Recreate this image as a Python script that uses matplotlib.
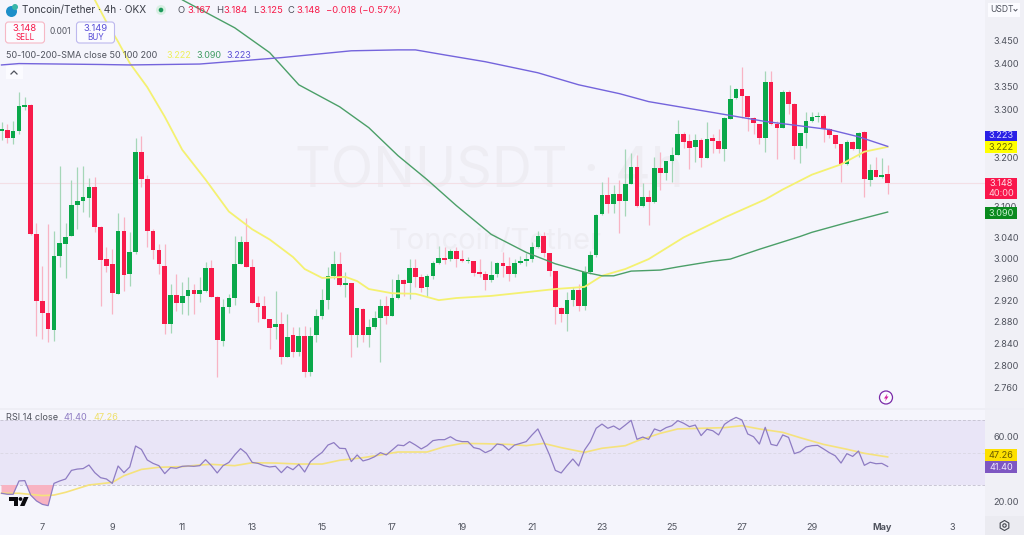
import matplotlib
matplotlib.use('Agg')
import matplotlib.pyplot as plt
from matplotlib.patches import Circle, FancyBboxPatch, Polygon, Rectangle, RegularPolygon
from matplotlib.ticker import NullFormatter, NullLocator

plt.rcParams['font.family'] = ['Inter', 'DejaVu Sans']

# 4h candles, oldest first
opens = [3.254,3.258,3.241,3.254,3.306,3.310,3.046,2.918,2.896,2.864,
         3.004,3.027,3.042,3.103,3.111,3.117,3.141,3.060,2.998,2.989,
         2.932,3.052,2.970,3.011,3.212,3.157,3.052,3.015,2.985,2.876,
         2.930,2.914,2.928,2.939,2.931,2.937,2.981,2.926,2.844,2.907,
         2.924,2.989,3.031,2.983,2.914,2.909,2.885,2.870,2.876,2.816,
         2.855,2.825,2.853,2.789,2.855,2.890,2.920,2.966,2.989,2.948,
         2.952,2.855,2.903,2.855,2.870,2.887,2.909,2.890,2.924,2.958,
         2.952,2.981,2.964,2.945,2.966,2.991,3.000,2.998,3.013,2.998,
         2.994,2.994,2.973,2.970,2.958,2.970,2.991,2.985,2.970,2.991,
         2.994,2.998,3.021,3.042,3.009,2.975,2.905,2.894,2.920,2.939,
         2.909,2.973,3.005,3.087,3.123,3.105,3.125,3.111,3.147,3.180,
         3.101,3.119,3.109,3.178,3.168,3.192,3.206,3.248,3.235,3.222,
         3.237,3.200,3.241,3.235,3.218,3.281,3.325,3.344,3.329,3.283,
         3.269,3.241,3.360,3.269,3.262,3.338,3.312,3.224,3.250,3.275,
         3.285,3.287,3.260,3.246,3.227,3.186,3.233,3.218,3.252,3.155,
         3.174,3.161,3.167]
highs = [3.273,3.269,3.275,3.338,3.327,3.312,3.069,2.985,3.067,3.052,
         3.182,3.069,3.155,3.180,3.182,3.159,3.161,3.062,3.021,3.017,
         3.089,3.081,3.050,3.241,3.245,3.165,3.056,3.027,3.027,2.950,
         2.970,2.954,2.964,2.950,2.964,2.992,2.996,2.927,2.922,2.932,
         3.042,3.042,3.079,2.998,2.928,2.928,2.885,2.937,2.898,2.894,
         2.870,2.870,2.872,2.870,2.903,2.941,2.983,3.013,3.011,2.973,
         2.953,2.906,2.905,2.885,2.899,2.922,2.928,2.960,2.970,2.960,
         2.998,2.998,2.970,2.970,2.994,3.023,3.021,3.017,3.021,3.015,
         3.002,2.995,2.998,2.975,2.994,2.992,3.011,3.002,2.998,3.004,
         3.009,3.031,3.052,3.050,3.010,2.976,2.907,2.935,2.945,2.950,
         2.985,3.013,3.086,3.151,3.161,3.145,3.155,3.218,3.210,3.206,
         3.149,3.135,3.202,3.212,3.193,3.222,3.279,3.252,3.248,3.248,
         3.241,3.273,3.248,3.260,3.284,3.353,3.346,3.392,3.330,3.284,
         3.270,3.383,3.383,3.275,3.342,3.342,3.313,3.251,3.294,3.296,
         3.296,3.290,3.262,3.247,3.228,3.237,3.234,3.252,3.254,3.186,
         3.202,3.200,3.184]
lows = [3.237,3.231,3.227,3.248,3.300,3.044,2.853,2.848,2.843,2.844,
        2.983,2.962,3.042,3.056,3.091,3.081,3.050,2.909,2.973,2.894,
        2.931,2.937,2.946,3.007,3.141,3.021,2.998,2.970,2.857,2.860,
        2.899,2.894,2.892,2.894,2.916,2.935,2.926,2.780,2.835,2.896,
        2.911,2.989,2.983,2.914,2.879,2.885,2.830,2.848,2.803,2.816,
        2.816,2.817,2.780,2.782,2.843,2.885,2.903,2.960,2.946,2.926,
        2.816,2.834,2.843,2.834,2.866,2.807,2.876,2.890,2.922,2.928,
        2.922,2.945,2.935,2.926,2.960,2.989,2.989,2.994,2.983,2.992,
        2.991,2.966,2.964,2.939,2.954,2.964,2.964,2.956,2.964,2.989,
        2.985,2.992,3.020,3.002,2.966,2.876,2.879,2.862,2.909,2.899,
        2.901,2.970,3.002,3.085,3.089,3.089,3.048,3.083,3.146,3.100,
        3.100,3.065,3.108,3.135,3.155,3.151,3.205,3.220,3.176,3.190,
        3.180,3.199,3.210,3.210,3.192,3.280,3.323,3.283,3.254,3.248,
        3.227,3.212,3.268,3.196,3.261,3.290,3.196,3.188,3.220,3.273,
        3.273,3.233,3.241,3.220,3.151,3.185,3.216,3.202,3.119,3.143,
        3.160,3.159,3.125]
closes = [3.260,3.241,3.254,3.308,3.310,3.046,2.918,2.896,2.866,3.004,
          3.029,3.040,3.103,3.111,3.119,3.141,3.060,2.996,2.985,2.933,
          3.052,2.968,3.011,3.212,3.157,3.052,3.015,2.989,2.876,2.930,
          2.914,2.928,2.939,2.931,2.939,2.981,2.926,2.846,2.907,2.924,
          2.989,3.031,2.983,2.914,2.907,2.885,2.868,2.876,2.816,2.852,
          2.825,2.853,2.789,2.853,2.890,2.920,2.966,2.989,2.948,2.952,
          2.855,2.905,2.855,2.870,2.887,2.909,2.890,2.924,2.958,2.950,
          2.981,2.964,2.943,2.966,2.991,3.000,2.996,3.013,2.998,2.994,
          2.996,2.971,2.970,2.958,2.968,2.991,2.985,2.970,2.991,2.994,
          2.998,3.021,3.042,3.009,2.975,2.907,2.894,2.920,2.939,2.909,
          2.973,3.005,3.085,3.123,3.105,3.125,3.111,3.147,3.180,3.101,
          3.119,3.109,3.178,3.168,3.192,3.206,3.248,3.233,3.220,3.237,
          3.200,3.239,3.235,3.218,3.283,3.323,3.344,3.329,3.285,3.271,
          3.241,3.360,3.269,3.262,3.338,3.312,3.224,3.250,3.275,3.285,
          3.287,3.260,3.246,3.227,3.186,3.233,3.218,3.250,3.157,3.174,
          3.161,3.165,3.148]

# moving averages, read at a handful of candles
sma50_idx = [16,18,20,22,25,28,31,35,39,43,46,50,52,55,59,61,63,67,71,75,78,84,90,95,100,
             103,107,111,117,124,131,134,139,144,148,152]
sma50 = [3.541,3.491,3.447,3.400,3.348,3.285,3.216,3.155,3.091,3.056,3.036,3.002,2.979,2.962,
         2.964,2.956,2.941,2.933,2.932,2.920,2.924,2.928,2.935,2.941,2.945,
         2.966,2.979,2.998,3.040,3.079,3.115,3.135,3.165,3.186,3.212,3.222]
sma100_idx = [28,31,40,46,51,58,63,68,73,78,84,90,95,100,103,105,108,113,116,122,125,130,137,139,145,152]
sma100 = [3.582,3.541,3.478,3.423,3.353,3.306,3.262,3.204,3.155,3.103,3.046,3.011,2.989,2.973,
          2.966,2.966,2.975,2.977,2.983,2.994,2.998,3.017,3.042,3.050,3.069,3.090]
sma200_idx = [0,3,10,17,22,34,43,48,60,68,71,76,83,92,99,106,111,122,131,142,147,152]
sma200 = [3.396,3.399,3.398,3.397,3.396,3.398,3.407,3.412,3.427,3.429,3.429,3.418,3.403,3.379,
          3.353,3.334,3.317,3.294,3.275,3.258,3.243,3.223]

rsi = [24.9,24.3,24.3,32.5,32.7,23.8,20.2,18.1,17.3,31.0,32.5,33.7,39.0,39.8,40.1,42.3,37.6,34.5,33.7,31.0,
       41.7,37.6,41.1,54.0,51.9,45.4,43.3,41.9,37.0,40.7,40.3,41.5,41.7,41.5,41.9,45.6,41.9,37.4,41.9,43.9,
       48.5,52.4,49.5,43.9,43.3,41.9,41.1,41.5,37.6,41.3,39.4,42.7,38.0,44.4,47.4,50.1,54.6,56.1,52.6,52.4,
       44.4,48.5,44.8,45.8,47.4,49.9,48.5,51.5,54.6,54.2,56.7,54.6,52.2,54.2,57.3,57.9,57.9,59.7,57.5,56.7,
       56.7,53.0,52.2,49.9,51.5,55.2,54.6,51.5,54.6,55.6,56.7,60.8,64.5,56.7,48.5,39.0,37.4,41.9,46.0,41.7,
       51.5,56.7,64.9,67.5,64.9,66.3,64.1,66.9,69.8,58.1,59.5,58.1,64.5,63.2,65.3,66.5,69.6,68.0,65.9,66.9,
       60.4,64.3,63.4,60.8,67.3,69.8,71.6,70.0,61.4,59.7,55.2,65.5,55.0,54.2,60.8,59.3,49.3,50.5,53.4,54.2,
       54.4,52.2,49.9,48.0,43.5,49.3,47.6,50.9,42.1,44.0,43.1,43.3,41.4]
rsi_ma_idx = [0,3,7,9,11,15,19,21,24,27,31,34,36,40,43,47,51,55,58,62,65,68,73,76,79,83,87,90,93,96,
              100,103,107,109,113,116,120,124,127,130,134,137,141,145,148,152]
rsi_ma = [24.9,24.9,23.5,23.8,25.5,30.0,31.6,35.7,39.6,40.9,41.3,42.3,42.7,41.9,43.7,43.5,42.9,42.9,45.2,
          46.8,48.5,50.3,50.3,53.6,55.6,55.4,55.0,54.2,55.6,53.0,50.1,52.6,54.2,57.1,61.8,64.5,64.9,65.3,
          66.5,64.5,62.4,59.1,55.0,52.0,49.5,47.26]

price_ticks = [3.45,3.40,3.35,3.30,3.20,3.10,3.04,3.00,2.96,2.92,2.88,2.84,2.80,2.76]
rsi_ticks = [60,20]
tick_idx = [7,19,31,43,55,67,79,91,103,115,127,139,151,163]
tick_labels = ['7','9','11','13','15','17','19','21','23','25','27','29','May','3']

W, H = 1024, 535
BG = '#f5f5fc'
RED = '#f71b4a'
GREEN = '#0aa84a'
TXT = '#50535e'

fig = plt.figure(figsize=(W/100, H/100), dpi=100, facecolor=BG)


def px_rect(x0, y0, x1, y1):
    return [x0/W, 1-y1/H, (x1-x0)/W, (y1-y0)/H]


# background layer in pixel coordinates
bg = fig.add_axes([0, 0, 1, 1], zorder=0)
bg.set_xlim(0, W)
bg.set_ylim(H, 0)
bg.axis('off')
bg.add_patch(Rectangle((985, 0), 39, H, fc='#f0f0f6', ec='none'))
bg.add_patch(Rectangle((0, 408), W, 2, fc='#eeeef5', ec='none'))
bg.text(295, 172, 'TONUSDT · 4h', fontsize=40, color='#eeedf3', va='center', ha='left')
bg.text(389, 241, 'Toncoin/Tether', fontsize=21, color='#eeedf3', va='center', ha='left')

xmin = (0-1.5)/5.83
xmax = (985-1.5)/5.83

# price pane
ax = fig.add_axes(px_rect(0, 0, 985, 408), zorder=1)
ax.patch.set_alpha(0)
ax.set_yscale('log')
ax.set_xlim(xmin, xmax)
ax.set_ylim(2.7247, 3.5406)
for s in ax.spines.values():
    s.set_visible(False)

ax.axhline(closes[-1], color='#f3dfe6', lw=0.8, zorder=1)
for i in range(len(opens)):
    up = closes[i] >= opens[i]
    col = GREEN if up else RED
    ax.vlines(i, lows[i], highs[i], color='#a5d6b8' if up else '#f8b4c4', lw=0.9, zorder=2)
    lo = min(opens[i], closes[i])
    ax.bar(i, abs(closes[i]-opens[i]), bottom=lo, width=0.8, color=col, lw=0, zorder=3)

ax.plot(sma50_idx, sma50, color='#f4f171', lw=1.3, zorder=4)
ax.plot(sma100_idx, sma100, color='#4b9f68', lw=1.0, zorder=4)
ax.plot(sma200_idx, sma200, color='#7464dc', lw=1.0, zorder=4)

ax.yaxis.tick_right()
ax.yaxis.set_minor_locator(NullLocator())
ax.yaxis.set_minor_formatter(NullFormatter())
ax.set_yticks(price_ticks)
ax.set_yticklabels(['%.3f' % p for p in price_ticks])
ax.set_xticks([])
ax.tick_params(axis='y', length=0, pad=6, labelsize=6.6, labelcolor=TXT)

# rsi pane
ax2 = fig.add_axes(px_rect(0, 411, 985, 515), zorder=1)
ax2.patch.set_alpha(0)
ax2.set_xlim(xmin, xmax)
ax2.set_ylim(50-(515-452.5)/1.625, 50+(452.5-411)/1.625)
for s in ax2.spines.values():
    s.set_visible(False)
rsi_x = list(range(len(rsi)))
ax2.axhspan(30, 70, color='#e9e5f7', lw=0, zorder=1)
ax2.axhline(70, color='#c9c6d4', lw=0.7, ls=(0, (3, 2)), zorder=2)
ax2.axhline(50, color='#dcd9e6', lw=0.7, ls=(0, (3, 2)), zorder=2)
ax2.axhline(30, color='#c9c6d4', lw=0.7, ls=(0, (3, 2)), zorder=2)
ax2.fill_between(rsi_x, rsi, 30, where=[v < 30 for v in rsi], interpolate=True,
                 color='#f8b3c2', lw=0, zorder=2)
ax2.plot(rsi_ma_idx, rsi_ma, color='#f5e27c', lw=1.2, zorder=3)
ax2.plot(rsi_x, rsi, color='#8e7cc3', lw=0.9, zorder=4)
ax2.yaxis.tick_right()
ax2.set_yticks(rsi_ticks)
ax2.set_yticklabels(['%.2f' % v for v in rsi_ticks])
ax2.set_xticks(tick_idx)
ax2.set_xticklabels(tick_labels)
ax2.get_xticklabels()[12].set_fontweight('bold')
ax2.tick_params(axis='y', length=0, pad=6, labelsize=6.6, labelcolor=TXT)
ax2.tick_params(axis='x', length=0, pad=6, labelsize=6.6, labelcolor=TXT)

# header, labels and icons on top, pixel coordinates again
top = fig.add_axes([0, 0, 1, 1], zorder=3)
top.set_xlim(0, W)
top.set_ylim(H, 0)
top.axis('off')
top.patch.set_alpha(0)


def txt(x, y, s, size=6.6, color=TXT, ha='left', **kw):
    top.text(x, y, s, fontsize=size, color=color, ha=ha, va='center', **kw)


def tag(y0, y1, fc, label, color):
    top.add_patch(Rectangle((985, y0), 32, y1-y0, fc=fc, ec='none'))
    txt(1001, (y0+y1)/2, label, color=color, ha='center')


# logo
top.add_patch(Circle((11.5, 11.5), 5.5, fc='#1d8fc9', ec='none'))
top.add_patch(Circle((15, 7), 3, fc='#3ab6a8', ec='none'))
txt(22, 10.5, 'Toncoin/Tether · 4h · OKX', size=7.3, color='#3a3d47')
top.add_patch(Circle((161, 10), 5, fc='#d8efe3', ec='none'))
top.add_patch(Circle((161, 10), 2.3, fc='#1d9a5c', ec='none'))
txt(178, 10.5, 'O', size=6.8)
txt(187, 10.5, '3.167', size=6.8, color=RED)
txt(216, 10.5, 'H', size=6.8)
txt(223, 10.5, '3.184', size=6.8, color=RED)
txt(253, 10.5, 'L', size=6.8)
txt(259, 10.5, '3.125', size=6.8, color=RED)
txt(288, 10.5, 'C', size=6.8)
txt(296, 10.5, '3.148', size=6.8, color=RED)
txt(326, 10.5, '−0.018 (−0.57%)', size=6.8, color=RED)

top.add_patch(FancyBboxPatch((5.5, 22), 39, 21, boxstyle='round,pad=0,rounding_size=3',
                             fc='#fbfbff', ec='#f6b8c5', lw=0.8))
txt(25, 28.5, '3.148', color=RED, ha='center', size=6.8)
txt(25, 38, 'SELL', color=RED, ha='center', size=5.8)
txt(60, 32, '0.001', ha='center', size=6)
top.add_patch(FancyBboxPatch((76.5, 22), 38, 21, boxstyle='round,pad=0,rounding_size=3',
                             fc='#fbfbff', ec='#bdb8ee', lw=0.8))
txt(95.5, 28.5, '3.149', color='#5a4fd8', ha='center', size=6.8)
txt(95.5, 38, 'BUY', color='#5a4fd8', ha='center', size=5.8)

txt(6, 56, '50-100-200-SMA close 50 100 200', size=6.5)
txt(166, 56, '3.222', size=6.5, color='#eef05a')
txt(196, 56, '3.090', size=6.5, color='#3f9c62')
txt(226, 56, '3.223', size=6.5, color='#5a4fd8')
top.add_patch(Rectangle((6, 66), 17, 13, fc='#fbfbff', ec='none'))
top.plot([11, 14, 17], [74, 71, 74], color=TXT, lw=0.9)

txt(6, 418, 'RSI 14 close', size=6.6)
txt(63, 418, '41.40', size=6.6, color='#8e7cc3')
txt(93, 418, '47.26', size=6.6, color='#efe06a')

top.add_patch(Rectangle((988, 3), 32, 14, fc='#fbfbff', ec='none'))
txt(990, 10, 'USDT', size=6.2)
top.plot([1014, 1015.5, 1017], [9.5, 11, 9.5], color=TXT, lw=0.7)

tag(131, 141, '#2a20e6', '3.223', '#d8d8ff')
tag(141, 153, '#ffff00', '3.222', '#6a6a00')
top.add_patch(Rectangle((985, 178), 32, 21, fc='#f9174c', ec='none'))
txt(1001, 184, '3.148', color='#ffe0e6', ha='center')
txt(1001, 193.5, '40:00', color='#ffd0da', ha='center')
tag(207, 219, '#0a8a1e', '3.090', '#c8f0d0')
tag(449, 461, '#fde000', '47.26', '#6a5a00')
tag(461, 473, '#7e57c2', '41.40', '#efe8ff')

# tradingview mark
top.add_patch(Polygon([(9, 497), (18, 497), (18, 506), (14, 506), (14, 501), (9, 501)], closed=True, fc='#0b0b0f', ec='none'))
top.add_patch(Circle((20.5, 499), 1.9, fc='#0b0b0f', ec='none'))
top.add_patch(Polygon([(24, 497), (28.5, 497), (24.5, 506), (20, 506)], closed=True, fc='#0b0b0f', ec='none'))

# lightning button
top.add_patch(Circle((886, 397.5), 6.5, fc='#fbfbff', ec='#7a2ba8', lw=0.9))
top.add_patch(Polygon([(887.5, 393.5), (884, 398.5), (886, 398.5), (885, 401.5), (888.5, 396.5), (886.5, 396.5)],
                      closed=True, fc='#d41fa0', ec='none'))

# settings button
top.add_patch(Rectangle((985, 516), 39, 19, fc='#ebebf1', ec='none'))
top.add_patch(RegularPolygon((1004.5, 525.5), 6, radius=5, fc='none', ec='#44464f', lw=0.8))
top.add_patch(Circle((1004.5, 525.5), 1.7, fc='none', ec='#44464f', lw=0.8))

fig.savefig('out.png', dpi=100, facecolor=BG)
